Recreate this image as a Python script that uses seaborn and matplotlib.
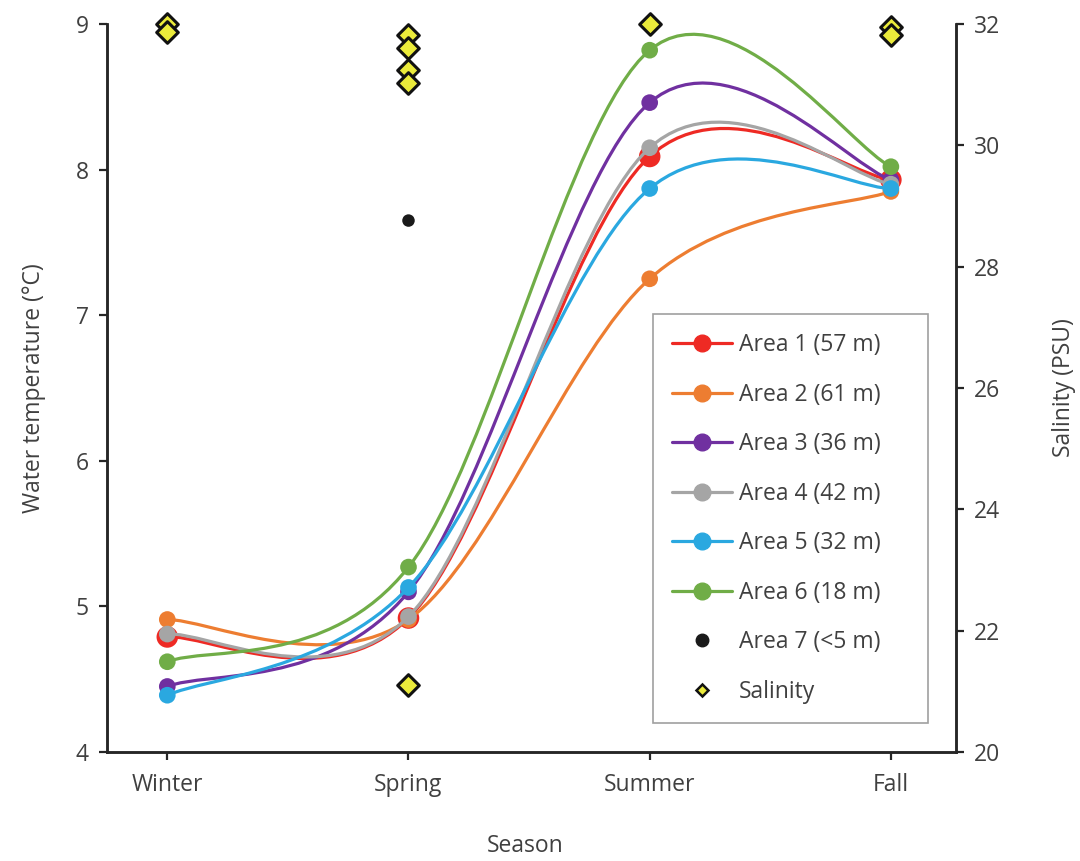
import numpy as np
import pandas as pd
import matplotlib
matplotlib.use('Agg')
import matplotlib.pyplot as plt
from matplotlib.path import Path
from matplotlib.patches import PathPatch
from matplotlib.lines import Line2D
import seaborn as sns

# --- data ---
seasons = ['Winter', 'Spring', 'Summer', 'Fall']
area_labels = ['Area 1 (57 m)', 'Area 2 (61 m)', 'Area 3 (36 m)', 'Area 4 (42 m)',
               'Area 5 (32 m)', 'Area 6 (18 m)']
area1 = [4.79, 4.92, 8.09, 7.93]
area2 = [4.91, 4.91, 7.25, 7.85]
area3 = [4.45, 5.10, 8.46, 7.93]
area4 = [4.81, 4.93, 8.15, 7.90]
area5 = [4.39, 5.13, 7.87, 7.87]
area6 = [4.62, 5.27, 8.82, 8.02]
area7_season = ['Spring']
area7 = [7.65]
area7_label = 'Area 7 (<5 m)'
sal_season = ['Winter', 'Winter', 'Spring', 'Spring', 'Spring', 'Spring', 'Spring',
              'Summer', 'Fall', 'Fall']
salinity = [32.0, 31.87, 31.82, 31.6, 31.24, 31.02, 21.1, 32.0, 31.95, 31.82]

area_colors = ['#EE2A24', '#ED7D31', '#7030A0', '#A5A5A5', '#2AA8E0', '#70AD47']
area_values = [area1, area2, area3, area4, area5, area6]


def smooth_path(xs, ys):
    # excel-like smoothed line: cubic bezier, catmull-rom style control points
    pts = np.column_stack([xs, ys]).astype(float)
    n = len(pts)
    verts = [pts[0]]
    codes = [Path.MOVETO]
    for i in range(n - 1):
        p0 = pts[i - 1] if i > 0 else pts[i]
        p1 = pts[i]
        p2 = pts[i + 1]
        p3 = pts[i + 2] if i + 2 < n else pts[i + 1]
        verts += [p1 + (p2 - p0) / 6, p2 - (p3 - p1) / 6, p2]
        codes += [Path.CURVE4] * 3
    return Path(verts, codes)


text_color = '#404040'
sns.set_style('white')
plt.rcParams['font.family'] = ['Open Sans', 'DejaVu Sans']
plt.rcParams['text.color'] = text_color
plt.rcParams['axes.labelcolor'] = text_color
plt.rcParams['xtick.color'] = '#262626'
plt.rcParams['ytick.color'] = '#262626'
plt.rcParams['xtick.labelcolor'] = text_color
plt.rcParams['ytick.labelcolor'] = text_color

fs = 16.5
fig = plt.figure(figsize=(10.8, 8.61), dpi=100)
ax = fig.add_axes([107 / 1080, 1 - 752 / 861, (956 - 107) / 1080, (752 - 24) / 861])
ax2 = ax.twinx()

x_pos = {s: i for i, s in enumerate(seasons)}
xs = np.arange(len(seasons))

for i, (vals, col, lab) in enumerate(zip(area_values, area_colors, area_labels)):
    df = pd.DataFrame({'x': xs, 'temp': vals})
    patch = PathPatch(smooth_path(df['x'], df['temp']), fill=False, edgecolor=col,
                      lw=2.3, zorder=3 + 2 * i, capstyle='round')
    ax.add_patch(patch)
    size = 15.5 if i == 0 else 12
    sns.scatterplot(data=df, x='x', y='temp', ax=ax, color=col, s=size ** 2,
                    edgecolor='none', linewidth=0, zorder=4 + 2 * i, legend=False)

df7 = pd.DataFrame({'x': [x_pos[s] for s in area7_season], 'temp': area7})
sns.scatterplot(data=df7, x='x', y='temp', ax=ax, color='#1A1A1A', s=9 ** 2,
                edgecolor='none', linewidth=0, zorder=20, legend=False)

df_sal = pd.DataFrame({'x': [x_pos[s] for s in sal_season], 'sal': salinity})
sns.scatterplot(data=df_sal, x='x', y='sal', ax=ax2, marker='D', color='#EBEB3B',
                s=11 ** 2, edgecolor='#111111', linewidth=2.2, zorder=5, legend=False,
                clip_on=False)

ax.set_xlim(-0.25, 3.27)
ax.set_ylim(4, 9)
ax2.set_ylim(20, 32)
ax.set_xticks(xs)
ax.set_xticklabels(seasons)
ax.set_yticks(np.arange(4, 10, 1))
ax2.set_yticks(np.arange(20, 33, 2))

for a in (ax, ax2):
    a.spines['top'].set_visible(False)
    for sp in ('left', 'right', 'bottom'):
        a.spines[sp].set_color('#262626')
        a.spines[sp].set_linewidth(1.8)
    a.tick_params(labelsize=fs, length=6, width=1.6, direction='out', pad=7)
ax.tick_params(axis='y', left=True, right=False)
ax.tick_params(axis='x', bottom=True, length=6, pad=9)
ax2.tick_params(axis='y', right=True)

ax.set_xlabel('Season', fontsize=fs)
ax.set_ylabel('Water temperature (°C)', fontsize=fs)
ax2.set_ylabel('Salinity (PSU)', fontsize=fs)
ax.xaxis.set_label_coords(0.492, -0.113)
ax.yaxis.set_label_coords(-0.072, 0.5)
ax2.yaxis.set_label_coords(1.113, 0.5)

handles = [Line2D([], [], color=c, lw=2.3, marker='o', ms=12) for c in area_colors]
handles.append(Line2D([], [], color='#1A1A1A', lw=0, marker='o', ms=9))
handles.append(Line2D([], [], color='#EBEB3B', lw=0, marker='D', ms=6,
                      markeredgecolor='#111111', markeredgewidth=1.8))
labels = area_labels + [area7_label, 'Salinity']
leg = ax2.legend(handles, labels, loc='upper left', mode='expand',
                 bbox_to_anchor=(653 / 1080, 1 - 721 / 861, 275 / 1080, 407 / 861),
                 bbox_transform=fig.transFigure, borderaxespad=0, fontsize=fs,
                 frameon=True, fancybox=False, edgecolor='#A0A0A0', framealpha=1,
                 handlelength=2.6, handletextpad=0.3, labelspacing=1.11, borderpad=0.85)
leg.get_frame().set_linewidth(1.2)

fig.savefig('out.png', dpi=100)
